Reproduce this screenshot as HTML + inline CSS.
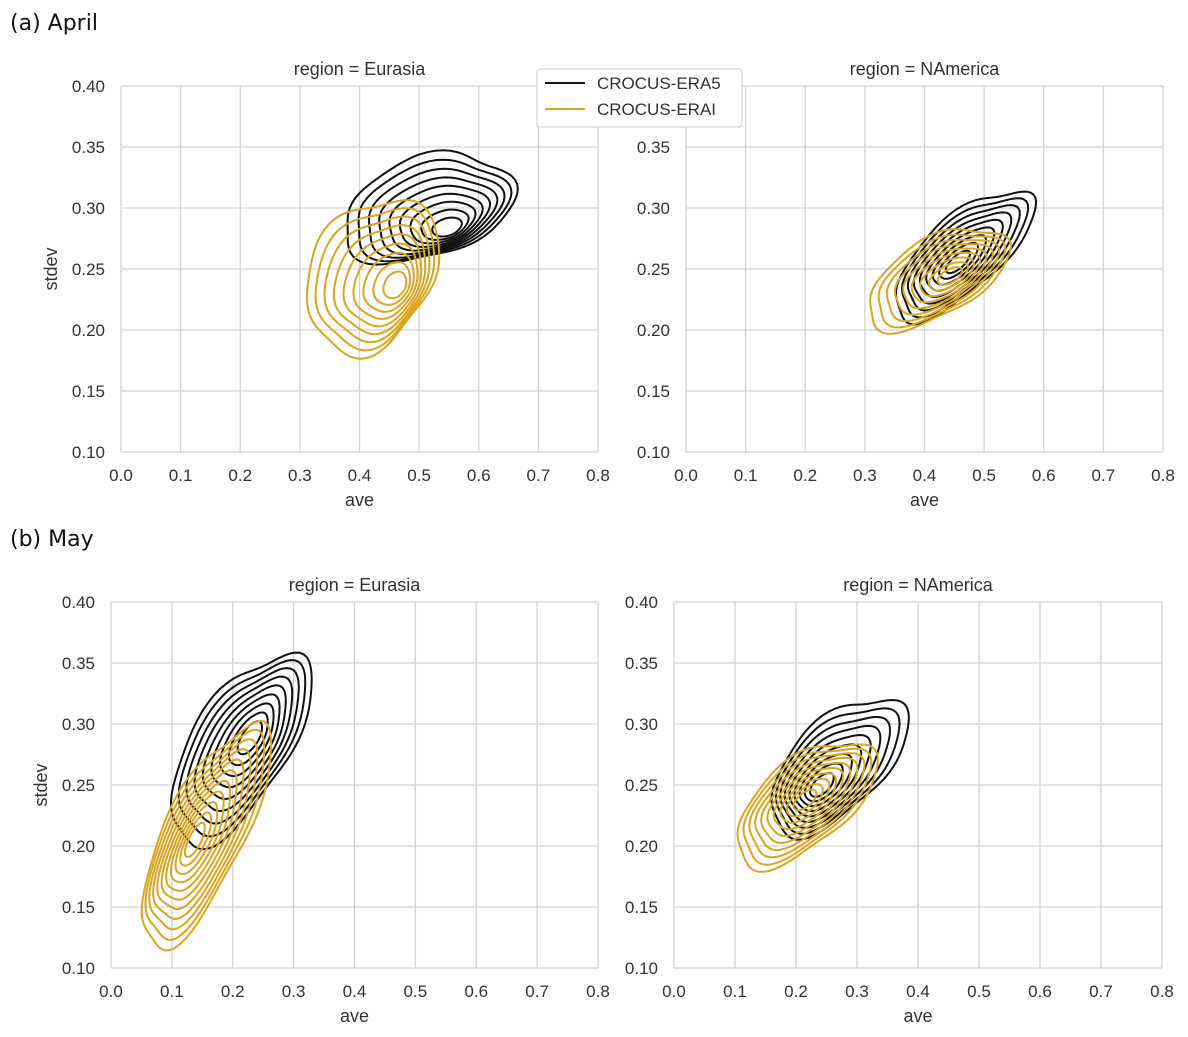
<!DOCTYPE html>
<html><head><meta charset="utf-8"><style>body{margin:0;background:#fff}svg{display:block}</style></head>
<body>
<svg id="s" width="1188" height="1037" xmlns="http://www.w3.org/2000/svg" font-family="DejaVu Sans, Liberation Sans, sans-serif">
<text x="10" y="30" font-size="22" fill="#111">(a) April</text>
<text x="10" y="546" font-size="22" fill="#111">(b) May</text>
<g id="g"></g>
<g>
<rect x="537" y="69" width="205" height="58" fill="#fff" stroke="#ccc" rx="3"/>
<line x1="545" y1="83" x2="585" y2="83" stroke="#111" stroke-width="2"/>
<line x1="545" y1="109" x2="585" y2="109" stroke="#daa520" stroke-width="2"/>
<text x="597" y="89" font-size="17" fill="#333" font-family="Liberation Sans, sans-serif">CROCUS-ERA5</text>
<text x="597" y="115" font-size="17" fill="#333" font-family="Liberation Sans, sans-serif">CROCUS-ERAI</text>
</g>
</svg>
<script>
var g=document.getElementById('g'),h='';
var P=[
 {x0:121,x1:598,y0:86,y1:452,t:'region = Eurasia',yl:1,
  c:[['#111',[428,208],[447,227],88,50,-18,9],['#daa520',[372,275],[395,285],82,60,-60,9]]},
 {x0:686,x1:1163,y0:86,y1:452,t:'region = NAmerica',yl:0,
  c:[['#111',[963,254],[958,262],88,36,-42,9],['#daa520',[937,278],[950,276],78,38,-30,9]]},
 {x0:111,x1:598,y0:602,y1:968,t:'region = Eurasia',yl:1,
  c:[['#111',[240,748],[250,738],108,48,-58,9],['#daa520',[205,835],[195,840],122,40,-64,11]]},
 {x0:674,x1:1162,y0:602,y1:968,t:'region = NAmerica',yl:0,
  c:[['#111',[838,765],[822,785],86,44,-45,9],['#daa520',[805,803],[805,800],84,42,-40,10]]}
];
P.forEach(function(p){
 var w=p.x1-p.x0,H=p.y1-p.y0;
 for(var i=0;i<=8;i++){var x=p.x0+w*i/8;h+='<line x1="'+x+'" y1="'+p.y0+'" x2="'+x+'" y2="'+p.y1+'" stroke="#d3d3d3" stroke-width="1.3"/>';
  h+='<text x="'+x+'" y="'+(p.y1+29)+'" font-size="17" fill="#333" text-anchor="middle" font-family="Liberation Sans, sans-serif">'+(i/10).toFixed(1)+'</text>';}
 for(var j=0;j<=6;j++){var y=p.y1-H*j/6;h+='<line x1="'+p.x0+'" y1="'+y+'" x2="'+p.x1+'" y2="'+y+'" stroke="#d3d3d3" stroke-width="1.3"/>';
  h+='<text x="'+(p.x0-16)+'" y="'+(y+6)+'" font-size="17" fill="#333" text-anchor="end" font-family="Liberation Sans, sans-serif">'+(0.1+0.05*j).toFixed(2)+'</text>';}
 h+='<text x="'+(p.x0+w/2)+'" y="'+(p.y0-11)+'" font-size="18" fill="#333" text-anchor="middle" font-family="Liberation Sans, sans-serif">'+p.t+'</text>';
 h+='<text x="'+(p.x0+w/2)+'" y="'+(p.y1+54)+'" font-size="18" fill="#333" text-anchor="middle" font-family="Liberation Sans, sans-serif">ave</text>';
 if(p.yl)h+='<text transform="translate('+(p.x0-64)+','+(p.y0+H/2)+') rotate(-90)" font-size="18" fill="#333" text-anchor="middle" font-family="Liberation Sans, sans-serif">stdev</text>';
 p.c.forEach(function(c){
  var n=c[6];
  for(var k=0;k<n;k++){var f=1-k/n*0.93, t=k/(n-1);
   var cx=c[1][0]+(c[2][0]-c[1][0])*t, cy=c[1][1]+(c[2][1]-c[1][1])*t;
   var a=c[3]*f,b=c[4]*f,r=c[5]*Math.PI/180,d='';
   for(var m=0;m<=72;m++){var th=m/72*2*Math.PI,wb=1+0.06*Math.sin(3*th+k*0.3)*(f)+0.04*Math.cos(5*th)*f;
    var ex=a*Math.cos(th)*wb,ey=b*Math.sin(th)*wb;
    var X=cx+ex*Math.cos(r)-ey*Math.sin(r),Y=cy+ex*Math.sin(r)+ey*Math.cos(r);
    d+=(m?'L':'M')+X.toFixed(1)+' '+Y.toFixed(1);}
   h+='<path d="'+d+'Z" fill="none" stroke="'+c[0]+'" stroke-width="2"/>';}
 });
});
g.innerHTML=h;
</script>
</body></html>
